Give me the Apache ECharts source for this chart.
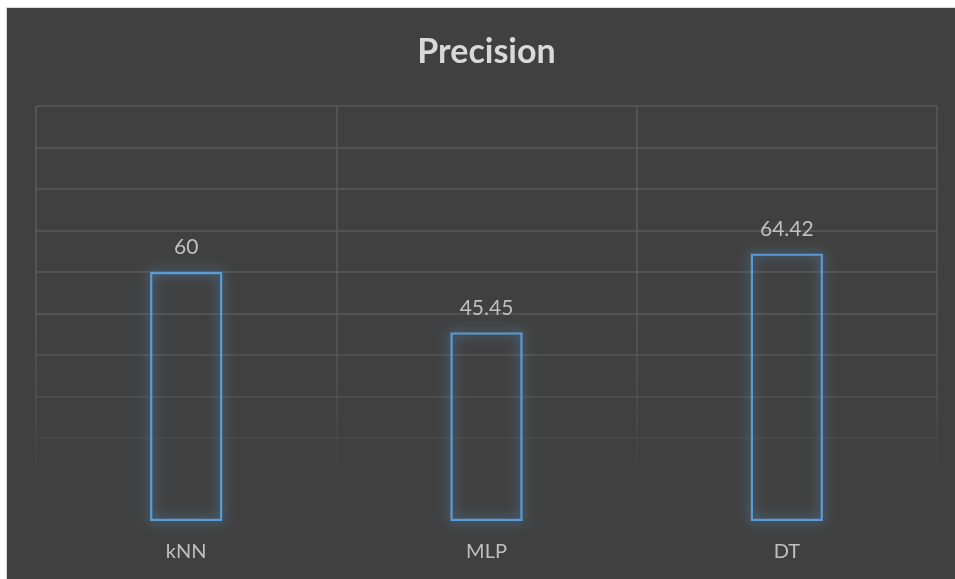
<!DOCTYPE html>
<html><head><meta charset="utf-8">
<script src="https://cdn.jsdelivr.net/npm/echarts@6/dist/echarts.min.js"></script>
<style>
html,body{margin:0;padding:0;background:#ffffff;width:955px;height:579px;overflow:hidden}
#frame{position:absolute;left:6px;top:7px;width:949px;height:572px;background:#d9d9d9}
#c{position:absolute;left:7px;top:8px;width:948px;height:571px;background:#404040}
</style></head>
<body><div id="frame"></div><div id="c"></div>
<script>
const categories = ["kNN", "MLP", "DT"];
const precision = [60, 45.45, 64.42];
const yTicks = [0, 10, 20, 30, 40, 50, 60, 70, 80, 90, 100];
const chartTitle = "Precision";

const chart = echarts.init(document.getElementById('c'), null, {renderer: 'canvas'});
const fade = () => new echarts.graphic.LinearGradient(0, 98, 0, 470, [
  {offset: 0, color: 'rgba(90,90,90,1)'},
  {offset: 0.55, color: 'rgba(90,90,90,0.95)'},
  {offset: 0.78, color: 'rgba(90,90,90,0.6)'},
  {offset: 0.9, color: 'rgba(90,90,90,0.25)'},
  {offset: 1, color: 'rgba(90,90,90,0)'}
], true);
chart.setOption({
  backgroundColor: '#404040',
  animation: false,
  graphic: [{
    type: 'text',
    x: 479.5,
    y: 44,
    style: {
      text: chartTitle,
      textAlign: 'center',
      textVerticalAlign: 'middle',
      fill: '#d9d9d9',
      fontSize: 34,
      fontWeight: 'bold',
      fontFamily: 'Lato'
    }
  }],
  grid: {left: 29, right: 18, top: 98, bottom: 58},
  xAxis: {
    type: 'category',
    data: categories,
    axisLine: {show: false},
    axisTick: {show: false},
    axisLabel: {color: '#bfbfbf', fontSize: 20, margin: 21, fontFamily: 'Lato'},
    splitLine: {show: true, interval: 0, lineStyle: {color: fade(), width: 1.5}}
  },
  yAxis: {
    type: 'value',
    min: yTicks[0],
    max: yTicks[yTicks.length - 1],
    interval: yTicks[1] - yTicks[0],
    axisLine: {show: false},
    axisTick: {show: false},
    axisLabel: {show: false},
    splitLine: {show: true, lineStyle: {color: fade(), width: 1.5}}
  },
  series: [{
    type: 'bar',
    data: precision,
    barWidth: '24%',
    itemStyle: {
      color: 'rgba(64,64,64,0)',
      borderColor: '#5b9bd5',
      borderWidth: 2.2,
      shadowBlur: 12,
      shadowColor: 'rgba(91,155,213,1)'
    },
    label: {
      show: true,
      position: 'top',
      distance: 14,
      color: '#bfbfbf',
      fontSize: 21,
      fontFamily: 'Lato'
    }
  }]
});
</script></body></html>
